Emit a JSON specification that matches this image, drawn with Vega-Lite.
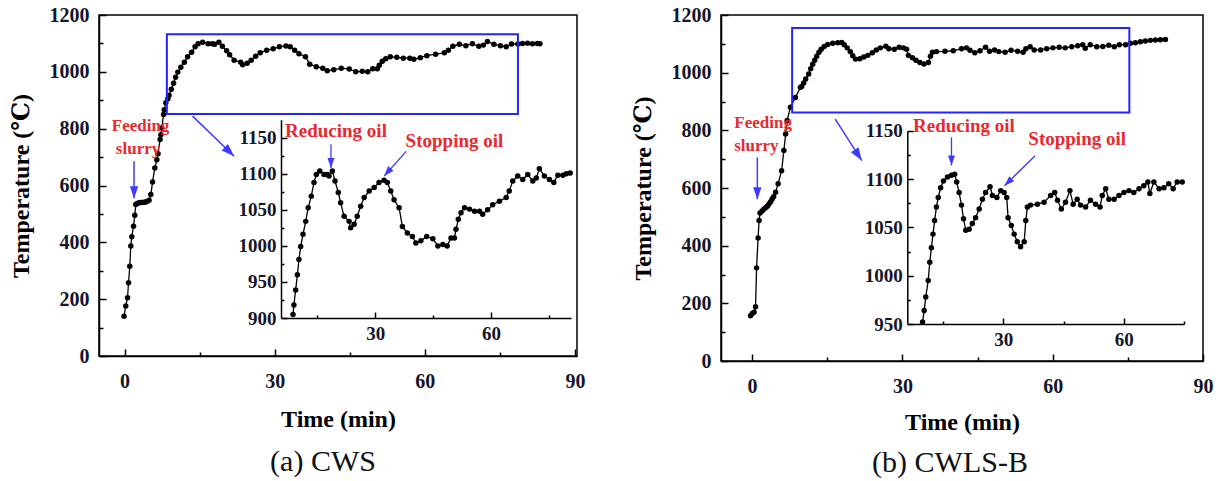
{
  "$schema": "https://vega.github.io/schema/vega-lite/v6.json",
  "background": "white",
  "padding": {"left": 8, "top": 4, "right": 5, "bottom": 3},
  "spacing": 44,
  "datasets": {
    "cws": [
      {"t":-0.1,"temp":140},{"t":0.25,"temp":176},{"t":0.6,"temp":205},{"t":0.8,"temp":258},{"t":1.05,"temp":316},{"t":1.25,"temp":387},{"t":1.45,"temp":420},{"t":1.8,"temp":457},{"t":2.05,"temp":495},{"t":2.25,"temp":533},{"t":2.5,"temp":537},{"t":2.9,"temp":539},{"t":3.2,"temp":540},{"t":3.5,"temp":540},{"t":3.9,"temp":541},{"t":4.2,"temp":542},{"t":4.5,"temp":544},{"t":4.9,"temp":548},{"t":5.25,"temp":568},{"t":5.6,"temp":612},{"t":6.05,"temp":662},{"t":6.46,"temp":691},{"t":6.7,"temp":712},{"t":7.1,"temp":762},{"t":7.26,"temp":779},{"t":7.45,"temp":803},{"t":7.8,"temp":850},{"t":7.93,"temp":867},{"t":8.25,"temp":891},
      {"t":8.66,"temp":905},{"t":8.9,"temp":918},{"t":9.35,"temp":939},{"t":9.8,"temp":960},{"t":10.2,"temp":981},{"t":10.65,"temp":999},{"t":11.25,"temp":1016},{"t":11.95,"temp":1034},{"t":12.6,"temp":1053},{"t":13.4,"temp":1069},{"t":14.1,"temp":1088},{"t":14.7,"temp":1099},{"t":15.6,"temp":1104},{"t":16.7,"temp":1099},{"t":17.55,"temp":1099},{"t":18.0,"temp":1097},{"t":18.85,"temp":1104},{"t":19.55,"temp":1090},{"t":20.4,"temp":1074},{"t":21.0,"temp":1060},{"t":21.9,"temp":1041},{"t":23.2,"temp":1034},{"t":23.6,"temp":1025},{"t":24.5,"temp":1030},{"t":25.3,"temp":1041},{"t":26.2,"temp":1055},{"t":27.1,"temp":1067},{"t":28.4,"temp":1076},{"t":29.7,"temp":1081},{"t":30.95,"temp":1088},{"t":32.25,"temp":1091},{"t":33.1,"temp":1088},{"t":34.0,"temp":1076},{"t":34.85,"temp":1064},{"t":36.15,"temp":1053},{"t":37.0,"temp":1027},{"t":38.3,"temp":1018},{"t":39.6,"temp":1013},{"t":40.5,"temp":1004},{"t":41.8,"temp":1007},{"t":43.3,"temp":1013},{"t":44.9,"temp":1010},{"t":46.2,"temp":1000},{"t":47.5,"temp":1002},{"t":48.6,"temp":1000},{"t":49.6,"temp":1011},{"t":50.5,"temp":1011},{"t":50.9,"temp":1023},{"t":51.5,"temp":1037},{"t":52.2,"temp":1046},{"t":53.1,"temp":1053},{"t":54.4,"temp":1051},{"t":55.7,"temp":1048},{"t":57.0,"temp":1048},{"t":57.8,"temp":1044},{"t":59.1,"temp":1050},{"t":60.4,"temp":1057},{"t":62.15,"temp":1062},{"t":63.9,"temp":1067},{"t":64.7,"temp":1076},{"t":65.6,"temp":1090},{"t":66.9,"temp":1097},{"t":68.2,"temp":1092},{"t":69.5,"temp":1099},{"t":70.8,"temp":1090},{"t":71.7,"temp":1094},{"t":72.5,"temp":1107},{"t":73.8,"temp":1097},{"t":75.1,"temp":1092},{"t":76.25,"temp":1088},{"t":77.3,"temp":1098},{"t":78.6,"temp":1098},{"t":79.5,"temp":1100},{"t":80.5,"temp":1101},{"t":81.5,"temp":1099},{"t":82.5,"temp":1100},{"t":83.0,"temp":1099}
    ],
    "cwlsb": [
      {"t":-0.3,"temp":157},{"t":0.05,"temp":165},{"t":0.4,"temp":169},{"t":0.7,"temp":188},{"t":0.9,"temp":323},{"t":1.2,"temp":427},{"t":1.4,"temp":487},{"t":1.6,"temp":513},{"t":2.0,"temp":520},{"t":2.4,"temp":527},{"t":2.8,"temp":533},{"t":3.1,"temp":538},{"t":3.4,"temp":545},{"t":3.7,"temp":552},{"t":4.0,"temp":562},{"t":4.3,"temp":570},{"t":4.7,"temp":585},{"t":5.2,"temp":615},{"t":5.9,"temp":660},{"t":6.35,"temp":730},{"t":6.7,"temp":787},{"t":7.0,"temp":834},{"t":7.65,"temp":880},{"t":8.65,"temp":914},{"t":9.65,"temp":949},
      {"t":9.9,"temp":952},{"t":10.3,"temp":964},{"t":10.7,"temp":978},{"t":11.3,"temp":995},{"t":11.7,"temp":1014},{"t":12.1,"temp":1029},{"t":12.5,"temp":1043},{"t":12.9,"temp":1057},{"t":13.35,"temp":1071},{"t":13.8,"temp":1081},{"t":14.4,"temp":1091},{"t":15.1,"temp":1098},{"t":16.1,"temp":1102},{"t":17.1,"temp":1104},{"t":17.9,"temp":1105},{"t":18.4,"temp":1097},{"t":19.0,"temp":1086},{"t":19.6,"temp":1073},{"t":20.1,"temp":1059},{"t":20.65,"temp":1047},{"t":21.5,"temp":1048},{"t":22.3,"temp":1054},{"t":23.1,"temp":1060},{"t":24.0,"temp":1069},{"t":24.8,"temp":1079},{"t":25.6,"temp":1086},{"t":26.7,"temp":1092},{"t":27.3,"temp":1083},{"t":28.4,"temp":1081},{"t":29.35,"temp":1088},{"t":30.2,"temp":1086},{"t":30.85,"temp":1081},{"t":31.2,"temp":1060},{"t":32.0,"temp":1052},{"t":32.7,"temp":1043},{"t":33.5,"temp":1035},{"t":34.3,"temp":1030},{"t":35.2,"temp":1035},{"t":35.6,"temp":1057},{"t":36.0,"temp":1071},{"t":36.8,"temp":1073},{"t":38.5,"temp":1074},{"t":40.15,"temp":1076},{"t":41.8,"temp":1083},{"t":42.8,"temp":1086},{"t":43.5,"temp":1078},{"t":44.45,"temp":1069},{"t":45.5,"temp":1076},{"t":46.6,"temp":1088},{"t":47.4,"temp":1074},{"t":48.4,"temp":1079},{"t":49.25,"temp":1073},{"t":50.5,"temp":1071},{"t":51.7,"temp":1078},{"t":53.0,"temp":1074},{"t":54.1,"temp":1071},{"t":54.65,"temp":1083},{"t":55.5,"temp":1090},{"t":56.3,"temp":1079},{"t":57.6,"temp":1079},{"t":58.8,"temp":1083},{"t":60.05,"temp":1086},{"t":61.3,"temp":1088},{"t":62.5,"temp":1086},{"t":63.8,"temp":1090},{"t":65.0,"temp":1093},{"t":66.0,"temp":1097},{"t":66.5,"temp":1085},{"t":67.5,"temp":1097},{"t":68.8,"temp":1090},{"t":70.0,"temp":1091},{"t":71.2,"temp":1095},{"t":72.3,"temp":1090},{"t":73.3,"temp":1097},{"t":74.55,"temp":1097},
      {"t":75.5,"temp":1102},{"t":76.5,"temp":1104},{"t":77.5,"temp":1107},{"t":78.5,"temp":1110},{"t":79.5,"temp":1112},{"t":80.5,"temp":1113},{"t":81.5,"temp":1114},{"t":82.5,"temp":1115}
    ]
  },
  "hconcat": [
    {
      "width": 478,
      "height": 341,
      "title": {"text": "(a) CWS", "orient": "bottom", "anchor": "middle", "frame": "group", "font": "Liberation Serif, Times New Roman, DejaVu Serif, serif", "fontSize": 30, "fontWeight": "normal", "color": "#111111", "offset": 16, "dx": -15},
      "resolve": {"scale": {"x": "independent", "y": "independent"}},
      "layer": [
        {
          "encoding": {
            "x": {"field": "t", "type": "quantitative", "scale": {"domain": [-5.1, 90.4], "nice": false, "zero": false},
              "axis": {"title": "Time (min)", "values": [0, 15, 30, 45, 60, 75, 90], "format": "d", "labelExpr": "datum.value % 30 === 0 ? datum.label : ''", "tickSize": {"condition": {"test": "datum.value % 30 === 0", "value": -7}, "value": -4}, "labelPadding": 22, "labelFontSize": 20, "titleFontSize": 24, "titlePadding": 13}},
            "y": {"field": "temp", "type": "quantitative", "scale": {"domain": [0, 1200], "nice": false, "zero": false},
              "axis": {"title": "Temperature (℃)", "values": [0, 100, 200, 300, 400, 500, 600, 700, 800, 900, 1000, 1100, 1200], "format": "d", "labelExpr": "datum.value % 200 === 0 ? datum.label : ''", "tickSize": {"condition": {"test": "datum.value % 200 === 0", "value": -7}, "value": -4}, "labelPadding": 17, "labelFontSize": 20, "titleFontSize": 24, "titlePadding": 16}}
          },
          "layer": [
            {"data": {"name": "cws"}, "mark": {"type": "line", "color": "black", "strokeWidth": 1.3}},
            {"data": {"name": "cws"}, "mark": {"type": "point", "filled": true, "color": "black", "size": 30, "opacity": 1}},
            {"data": {"values": [{"t": 8.46, "t2": 78.6, "temp": 852, "temp2": 1132}]}, "mark": {"type": "rect", "fill": "white", "fillOpacity": 0, "stroke": "#2424ff", "strokeWidth": 2}, "encoding": {"x2": {"field": "t2"}, "y2": {"field": "temp2"}}},
            {"data": {"values": [{"t": 1.9, "temp": 685, "t2": 1.9, "temp2": 555}, {"t": 13.6, "temp": 844, "t2": 21.9, "temp2": 703}]}, "mark": {"type": "rule", "color": "#3c3cff", "strokeWidth": 1.5}, "encoding": {"x2": {"field": "t2"}, "y2": {"field": "temp2"}}},
            {"data": {"values": [{"t": 1.9, "temp": 555}]}, "mark": {"type": "point", "shape": "M-0.35,-1L0.35,-1L0,0Z", "filled": true, "color": "#3c3cff", "size": 576, "angle": 0, "opacity": 1}},
            {"data": {"values": [{"t": 21.9, "temp": 703}]}, "mark": {"type": "point", "shape": "M-0.35,-1L0.35,-1L0,0Z", "filled": true, "color": "#3c3cff", "size": 676, "angle": -46, "opacity": 1}},
            {"data": {"values": [{"t": 3.2, "temp": 811, "label": "Feeding"}, {"t": 2.7, "temp": 727, "label": "slurry"}]}, "mark": {"type": "text", "font": "Liberation Serif, Times New Roman, DejaVu Serif, serif", "fontWeight": "bold", "fontSize": 17, "color": "#e62a30"}, "encoding": {"text": {"field": "label"}}}
          ]
        },
        {
          "encoding": {
            "x": {"field": "t", "type": "quantitative", "scale": {"domain": [5.55, 80.7], "range": [182, 472], "nice": false, "zero": false},
              "axis": {"orient": "bottom", "offset": -38, "title": null, "values": [15, 30, 45, 60, 75], "format": "d", "labelExpr": "datum.value % 30 === 0 ? datum.label : ''", "tickSize": {"condition": {"test": "datum.value % 30 === 0", "value": -6}, "value": -3}, "labelPadding": 12, "labelFontSize": 19}},
            "y": {"field": "temp", "type": "quantitative", "scale": {"domain": [900, 1175], "range": [303, 104.7], "nice": false, "zero": false},
              "axis": {"orient": "left", "offset": -182, "title": null, "values": [900, 925, 950, 975, 1000, 1025, 1050, 1075, 1100, 1125, 1150], "format": "d", "labelExpr": "datum.value % 50 === 0 ? datum.label : ''", "tickSize": {"condition": {"test": "datum.value % 50 === 0", "value": -6}, "value": -3}, "labelPadding": 11, "labelFontSize": 19}}
          },
          "layer": [
            {"data": {"name": "cws"}, "transform": [{"filter": "datum.t >= 5.55 && datum.t <= 80.7 && datum.temp >= 900"}], "mark": {"type": "line", "color": "black", "strokeWidth": 1.3}},
            {"data": {"name": "cws"}, "transform": [{"filter": "datum.t >= 5.55 && datum.t <= 80.7 && datum.temp >= 900"}], "mark": {"type": "point", "filled": true, "color": "black", "size": 30, "opacity": 1}},
            {"data": {"values": [{"t": 18.5, "temp": 1141, "t2": 18.5, "temp2": 1108}, {"t": 38.0, "temp": 1131, "t2": 32.3, "temp2": 1097}]}, "mark": {"type": "rule", "color": "#3c3cff", "strokeWidth": 1.3}, "encoding": {"x2": {"field": "t2"}, "y2": {"field": "temp2"}}},
            {"data": {"values": [{"t": 18.5, "temp": 1108}]}, "mark": {"type": "point", "shape": "M-0.35,-1L0.35,-1L0,0Z", "filled": true, "color": "#3c3cff", "size": 400, "angle": 0, "opacity": 1}},
            {"data": {"values": [{"t": 32.3, "temp": 1097}]}, "mark": {"type": "point", "shape": "M-0.35,-1L0.35,-1L0,0Z", "filled": true, "color": "#3c3cff", "size": 400, "angle": 41, "opacity": 1}},
            {"data": {"values": [{"t": 19.8, "temp": 1159, "label": "Reducing oil"}, {"t": 50.5, "temp": 1145, "label": "Stopping oil"}]}, "mark": {"type": "text", "font": "Liberation Serif, Times New Roman, DejaVu Serif, serif", "fontWeight": "bold", "fontSize": 19, "color": "#e62a30"}, "encoding": {"text": {"field": "label"}}}
          ]
        }
      ]
    },
    {
      "width": 482,
      "height": 346,
      "title": {"text": "(b) CWLS-B", "orient": "bottom", "anchor": "middle", "frame": "group", "font": "Liberation Serif, Times New Roman, DejaVu Serif, serif", "fontSize": 30, "fontWeight": "normal", "color": "#111111", "offset": 14, "dx": -12},
      "resolve": {"scale": {"x": "independent", "y": "independent"}},
      "layer": [
        {
          "encoding": {
            "x": {"field": "t", "type": "quantitative", "scale": {"domain": [-6.2, 90], "nice": false, "zero": false},
              "axis": {"title": "Time (min)", "values": [0, 15, 30, 45, 60, 75, 90], "format": "d", "labelExpr": "datum.value % 30 === 0 ? datum.label : ''", "tickSize": {"condition": {"test": "datum.value % 30 === 0", "value": -7}, "value": -4}, "labelPadding": 22, "labelFontSize": 20, "titleFontSize": 24, "titlePadding": 11}},
            "y": {"field": "temp", "type": "quantitative", "scale": {"domain": [0, 1200], "nice": false, "zero": false},
              "axis": {"title": "Temperature (℃)", "values": [0, 100, 200, 300, 400, 500, 600, 700, 800, 900, 1000, 1100, 1200], "format": "d", "labelExpr": "datum.value % 200 === 0 ? datum.label : ''", "tickSize": {"condition": {"test": "datum.value % 200 === 0", "value": -7}, "value": -4}, "labelPadding": 17, "labelFontSize": 20, "titleFontSize": 24, "titlePadding": 16}}
          },
          "layer": [
            {"data": {"name": "cwlsb"}, "mark": {"type": "line", "color": "black", "strokeWidth": 1.3}},
            {"data": {"name": "cwlsb"}, "mark": {"type": "point", "filled": true, "color": "black", "size": 30, "opacity": 1}},
            {"data": {"values": [{"t": 8.0, "t2": 75.3, "temp": 862, "temp2": 1155}]}, "mark": {"type": "rect", "fill": "white", "fillOpacity": 0, "stroke": "#2424ff", "strokeWidth": 2}, "encoding": {"x2": {"field": "t2"}, "y2": {"field": "temp2"}}},
            {"data": {"values": [{"t": 1.05, "temp": 706, "t2": 1.05, "temp2": 561}, {"t": 16.6, "temp": 839, "t2": 21.9, "temp2": 695}]}, "mark": {"type": "rule", "color": "#3c3cff", "strokeWidth": 1.5}, "encoding": {"x2": {"field": "t2"}, "y2": {"field": "temp2"}}},
            {"data": {"values": [{"t": 1.05, "temp": 561}]}, "mark": {"type": "point", "shape": "M-0.35,-1L0.35,-1L0,0Z", "filled": true, "color": "#3c3cff", "size": 576, "angle": 0, "opacity": 1}},
            {"data": {"values": [{"t": 21.9, "temp": 695}]}, "mark": {"type": "point", "shape": "M-0.35,-1L0.35,-1L0,0Z", "filled": true, "color": "#3c3cff", "size": 676, "angle": -33, "opacity": 1}},
            {"data": {"values": [{"t": 2.2, "temp": 826, "label": "Feeding"}, {"t": 0.85, "temp": 744, "label": "slurry"}]}, "mark": {"type": "text", "font": "Liberation Serif, Times New Roman, DejaVu Serif, serif", "fontWeight": "bold", "fontSize": 17, "color": "#e62a30"}, "encoding": {"text": {"field": "label"}}}
          ]
        },
        {
          "encoding": {
            "x": {"field": "t", "type": "quantitative", "scale": {"domain": [6.1, 75], "range": [186.3, 463], "nice": false, "zero": false},
              "axis": {"orient": "bottom", "offset": -37, "title": null, "values": [15, 30, 45, 60, 75], "format": "d", "labelExpr": "datum.value % 30 === 0 ? datum.label : ''", "tickSize": {"condition": {"test": "datum.value % 30 === 0", "value": -6}, "value": -3}, "labelPadding": 12, "labelFontSize": 19}},
            "y": {"field": "temp", "type": "quantitative", "scale": {"domain": [950, 1150], "range": [309, 115.7], "nice": false, "zero": false},
              "axis": {"orient": "left", "offset": -186.3, "title": null, "values": [950, 975, 1000, 1025, 1050, 1075, 1100, 1125, 1150], "format": "d", "labelExpr": "datum.value % 50 === 0 ? datum.label : ''", "tickSize": {"condition": {"test": "datum.value % 50 === 0", "value": -6}, "value": -3}, "labelPadding": 11, "labelFontSize": 19}}
          },
          "layer": [
            {"data": {"name": "cwlsb"}, "transform": [{"filter": "datum.t >= 6.1 && datum.t <= 75 && datum.temp >= 950"}], "mark": {"type": "line", "color": "black", "strokeWidth": 1.3}},
            {"data": {"name": "cwlsb"}, "transform": [{"filter": "datum.t >= 6.1 && datum.t <= 75 && datum.temp >= 950"}], "mark": {"type": "point", "filled": true, "color": "black", "size": 30, "opacity": 1}},
            {"data": {"values": [{"t": 17.1, "temp": 1143, "t2": 17.1, "temp2": 1114}, {"t": 37.9, "temp": 1124, "t2": 30.3, "temp2": 1093}]}, "mark": {"type": "rule", "color": "#3c3cff", "strokeWidth": 1.3}, "encoding": {"x2": {"field": "t2"}, "y2": {"field": "temp2"}}},
            {"data": {"values": [{"t": 17.1, "temp": 1114}]}, "mark": {"type": "point", "shape": "M-0.35,-1L0.35,-1L0,0Z", "filled": true, "color": "#3c3cff", "size": 400, "angle": 0, "opacity": 1}},
            {"data": {"values": [{"t": 30.3, "temp": 1093}]}, "mark": {"type": "point", "shape": "M-0.35,-1L0.35,-1L0,0Z", "filled": true, "color": "#3c3cff", "size": 400, "angle": 46, "opacity": 1}},
            {"data": {"values": [{"t": 20.2, "temp": 1155, "label": "Reducing oil"}, {"t": 48.4, "temp": 1141.5, "label": "Stopping oil"}]}, "mark": {"type": "text", "font": "Liberation Serif, Times New Roman, DejaVu Serif, serif", "fontWeight": "bold", "fontSize": 19, "color": "#e62a30"}, "encoding": {"text": {"field": "label"}}}
          ]
        }
      ]
    }
  ],
  "config": {
    "font": "Liberation Serif, Times New Roman, DejaVu Serif, serif",
    "view": {"stroke": "black", "strokeWidth": 1.5},
    "axis": {"grid": false, "domainColor": "black", "domainWidth": 1.5, "tickColor": "black", "tickWidth": 1.5, "labelFont": "Liberation Serif, Times New Roman, DejaVu Serif, serif", "labelFontWeight": "bold", "labelColor": "#15152a", "titleFont": "Liberation Serif, Times New Roman, DejaVu Serif, serif", "titleFontWeight": "bold", "titleColor": "black", "labelFlush": false, "labelOverlap": false}
  }
}
